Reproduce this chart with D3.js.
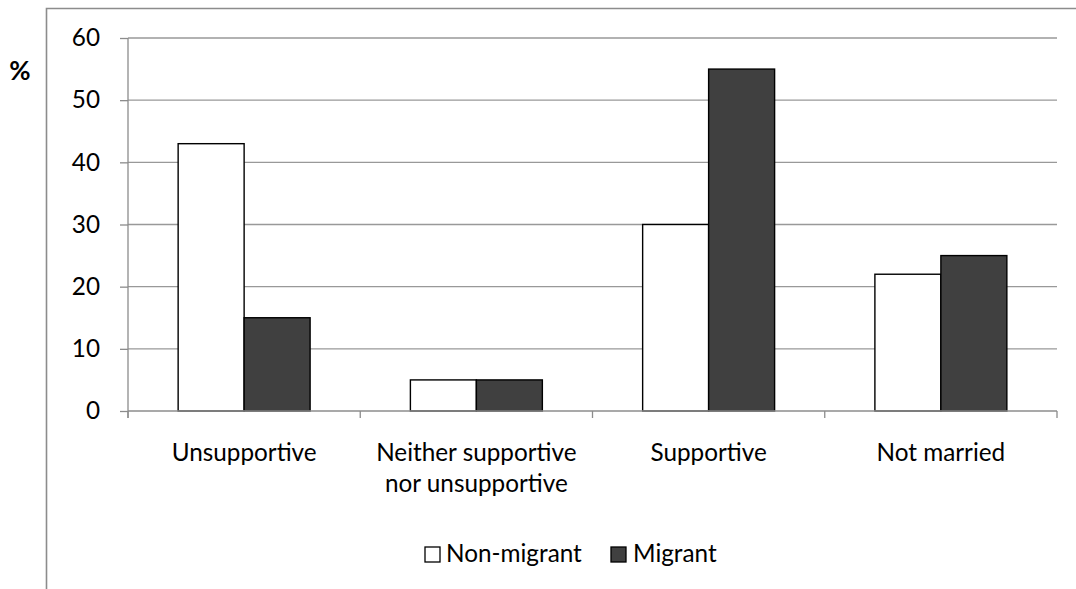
<!DOCTYPE html>
<html>
<head>
<meta charset="utf-8">
<script src="https://cdn.jsdelivr.net/npm/d3@7"></script>
<style>
  html, body { margin: 0; padding: 0; background: #fff; }
  svg { display: block; }
  text { font-family: Lato, "Open Sans", sans-serif; fill: #000; }
</style>
</head>
<body>
<svg id="chart" width="1076" height="589"></svg>
<script>
// Response categories (two-line labels split on "\n")
const categories = ["Unsupportive", "Neither supportive\nnor unsupportive", "Supportive", "Not married"];
const seriesNames = ["Non-migrant", "Migrant"];
const nonMigrant = [43, 5, 30, 22];
const migrant = [15, 5, 55, 25];
const yTicks = [0, 10, 20, 30, 40, 50, 60];

const fills = ["#ffffff", "#404040"];
const values = [nonMigrant, migrant];
const FS = 24.3;

const svg = d3.select("#chart");
const W = 1076, H = 589;

// Outer frame (left and top edges only)
svg.append("path")
  .attr("d", `M46.5,${H} L46.5,8.5 L${W},8.5`)
  .attr("fill", "none").attr("stroke", "#8c8c8c").attr("stroke-width", 1.6);

const plot = { left: 128, right: 1057, top: 38, bottom: 411 };

const x0 = d3.scaleBand().domain(d3.range(categories.length))
  .range([plot.left, plot.right]).paddingInner(0).paddingOuter(0);
const x1 = d3.scaleBand().domain(d3.range(seriesNames.length))
  .range([0, x0.bandwidth()]).paddingOuter(0.76).paddingInner(0);
const y = d3.scaleLinear().domain([0, 60]).range([plot.bottom, plot.top]);

// Horizontal gridlines
svg.append("g").selectAll("line").data(yTicks.slice(1)).join("line")
  .attr("x1", plot.left).attr("x2", plot.right)
  .attr("y1", d => y(d)).attr("y2", d => y(d))
  .attr("stroke", "#999").attr("stroke-width", 1.3);

// Y axis
const yAxis = svg.append("g").attr("transform", `translate(${plot.left},0)`)
  .call(d3.axisLeft(y).tickValues(yTicks).tickSize(8).tickPadding(20));
yAxis.select(".domain").attr("stroke", "#8c8c8c").attr("stroke-width", 1.3)
  .attr("d", `M0,${plot.top}V${plot.bottom + 7}`);
yAxis.selectAll(".tick line").attr("stroke", "#8c8c8c").attr("stroke-width", 1.3);
yAxis.selectAll(".tick text").attr("font-size", FS).attr("font-family", "Lato, sans-serif").attr("fill", "#000");

// Bars
const groups = svg.append("g").selectAll("g").data(categories).join("g")
  .attr("transform", (d, i) => `translate(${x0(i)},0)`);
groups.selectAll("rect").data((d, i) => values.map((v, s) => ({ s, v: v[i] }))).join("rect")
  .attr("x", d => x1(d.s)).attr("width", x1.bandwidth())
  .attr("y", d => y(d.v)).attr("height", d => y(0) - y(d.v))
  .attr("fill", d => fills[d.s]).attr("stroke", "#000").attr("stroke-width", 1.4);

// X axis baseline and category-boundary ticks
const xg = svg.append("g");
xg.append("line").attr("x1", plot.left).attr("x2", plot.right)
  .attr("y1", plot.bottom).attr("y2", plot.bottom)
  .attr("stroke", "#8c8c8c").attr("stroke-width", 1.3);
xg.selectAll("line.tk").data(d3.range(categories.length + 1)).join("line").attr("class", "tk")
  .attr("x1", i => plot.left + i * x0.bandwidth()).attr("x2", i => plot.left + i * x0.bandwidth())
  .attr("y1", plot.bottom).attr("y2", plot.bottom + 7)
  .attr("stroke", "#8c8c8c").attr("stroke-width", 1.3);

// Category labels
const lbl = svg.append("g").selectAll("text").data(categories).join("text")
  .attr("text-anchor", "middle").attr("font-size", FS)
  .attr("transform", (d, i) => `translate(${x0(i) + x0.bandwidth() / 2},461)`);
lbl.selectAll("tspan").data(d => d.split("\n")).join("tspan")
  .attr("x", 0).attr("dy", (d, i) => i === 0 ? 0 : 30.5).text(d => d);

// Axis title
svg.append("text").attr("x", 20).attr("y", 80).attr("text-anchor", "middle")
  .attr("font-size", 26).attr("font-weight", "bold").text("%");

// Legend
const legendItems = [
  { name: seriesNames[0], fill: fills[0], box: 425, tx: 446 },
  { name: seriesNames[1], fill: fills[1], box: 611, tx: 633 }
];
const lg = svg.append("g").selectAll("g").data(legendItems).join("g");
lg.append("rect").attr("x", d => d.box).attr("y", 547).attr("width", 15).attr("height", 15)
  .attr("fill", d => d.fill).attr("stroke", "#000").attr("stroke-width", 1.3);
lg.append("text").attr("x", d => d.tx).attr("y", 562).attr("font-size", FS).text(d => d.name);
</script>
</body>
</html>
